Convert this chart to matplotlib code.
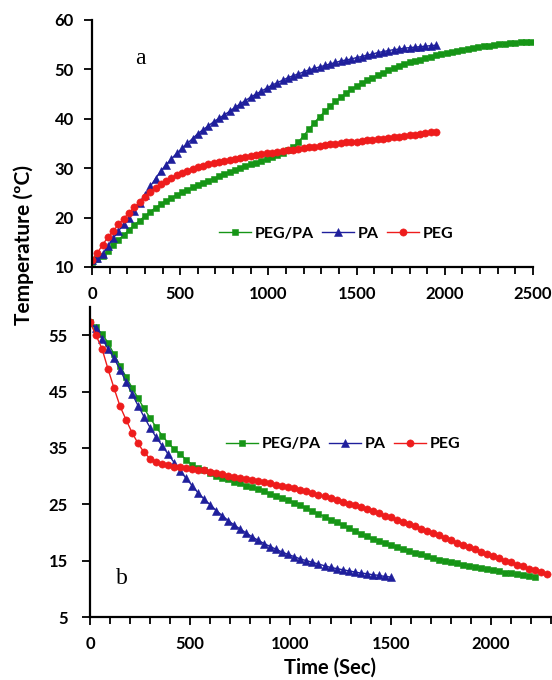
import numpy as np
import matplotlib
matplotlib.use('Agg')
import matplotlib.pyplot as plt
from matplotlib.ticker import MultipleLocator

plt.rcParams.update({
    'font.family': 'Lato',
    'font.weight': 'bold',
    'font.size': 12,
})

# sampling interval of the logged temperatures (s)
STEP = 30

# (a) heating curves, temperature in degC, one value every STEP seconds
heat_pegpa = [11.1, 11.6, 12.3, 13.3, 14.5, 15.5, 16.5, 17.5, 18.5, 19.4, 20.3, 21.2, 22.0, 22.7,
              23.4, 24.0, 24.6, 25.1, 25.6, 26.1, 26.6, 27.0, 27.5, 27.9, 28.4, 28.8, 29.2, 29.6,
              30.0, 30.4, 30.8, 31.1, 31.5, 31.8, 32.2, 32.6, 33.1, 33.6, 34.3, 35.3, 36.6, 37.9,
              39.2, 40.4, 41.5, 42.5, 43.5, 44.4, 45.2, 46.0, 46.6, 47.2, 47.8, 48.3, 48.8, 49.3,
              49.8, 50.2, 50.6, 51.0, 51.4, 51.7, 52.0, 52.3, 52.6, 52.9, 53.1, 53.4, 53.6, 53.8,
              54.0, 54.2, 54.4, 54.5, 54.7, 54.8, 55.0, 55.1, 55.2, 55.3, 55.4, 55.5, 55.6, 55.6]
heat_pa = [11.5, 11.8, 12.6, 14.2, 15.8, 17.3, 18.7, 20.0, 21.4, 23.0, 24.6, 26.3, 27.9, 29.4,
           30.7, 31.9, 33.0, 34.0, 35.0, 36.0, 37.0, 37.8, 38.6, 39.4, 40.1, 40.8, 41.5, 42.3,
           43.0, 43.7, 44.4, 45.0, 45.6, 46.2, 46.8, 47.3, 47.8, 48.3, 48.7, 49.1, 49.5, 49.9,
           50.2, 50.5, 50.8, 51.1, 51.4, 51.7, 51.9, 52.1, 52.4, 52.6, 52.9, 53.1, 53.4, 53.6,
           53.8, 54.0, 54.1, 54.3, 54.4, 54.5, 54.6, 54.7, 54.8, 54.9]
heat_peg = [11.5, 12.8, 14.5, 16.0, 17.3, 18.6, 19.8, 21.0, 22.1, 23.2, 24.2, 25.2, 26.0, 26.8,
            27.5, 28.1, 28.6, 29.1, 29.5, 29.9, 30.2, 30.5, 30.8, 31.0, 31.3, 31.5, 31.7, 31.9,
            32.1, 32.3, 32.5, 32.6, 32.8, 33.0, 33.1, 33.3, 33.4, 33.6, 33.7, 33.9, 34.0, 34.2,
            34.3, 34.5, 34.6, 34.8, 34.9, 35.1, 35.2, 35.3, 35.4, 35.6, 35.7, 35.8, 35.9, 36.0,
            36.2, 36.3, 36.4, 36.6, 36.7, 36.8, 37.0, 37.1, 37.3, 37.4]

# (b) cooling curves
cool_pegpa = [57.3, 56.4, 55.2, 53.7, 51.6, 49.6, 47.6, 45.7, 43.8, 42.0, 40.3, 38.7, 37.2, 35.9,
              34.8, 33.9, 32.9, 32.0, 31.4, 31.0, 30.5, 30.1, 29.7, 29.4, 29.0, 28.7, 28.3, 28.0,
              27.7, 27.3, 26.9, 26.5, 26.1, 25.7, 25.3, 24.8, 24.3, 23.8, 23.3, 22.8, 22.3, 21.8,
              21.3, 20.8, 20.3, 19.8, 19.3, 18.9, 18.5, 18.1, 17.7, 17.4, 17.0, 16.7, 16.4, 16.1,
              15.8, 15.5, 15.2, 15.0, 14.7, 14.5, 14.3, 14.1, 13.9, 13.7, 13.5, 13.3, 13.1, 12.9,
              12.8, 12.6, 12.4, 12.3, 12.1]
cool_pa = [57.3, 56.2, 54.4, 52.6, 50.9, 48.9, 46.7, 44.6, 42.5, 40.5, 38.6, 36.9, 35.4, 33.9,
           32.4, 30.9, 29.6, 28.3, 27.0, 25.9, 24.9, 23.9, 23.0, 22.1, 21.3, 20.6, 19.9, 19.2,
           18.6, 18.0, 17.5, 17.0, 16.5, 16.1, 15.7, 15.3, 15.0, 14.7, 14.4, 14.1, 13.8, 13.6,
           13.4, 13.2, 13.0, 12.8, 12.7, 12.5, 12.4, 12.2, 12.1]
cool_peg = [57.3, 55.0, 52.6, 49.0, 45.6, 42.4, 40.0, 37.7, 35.8, 34.2, 33.1, 32.5, 32.1, 31.9,
            31.7, 31.6, 31.4, 31.3, 31.1, 31.0, 30.8, 30.6, 30.4, 30.1, 29.9, 29.7, 29.5, 29.3,
            29.1, 28.9, 28.7, 28.5, 28.3, 28.1, 27.9, 27.6, 27.3, 27.0, 26.7, 26.4, 26.1, 25.8,
            25.4, 25.1, 24.8, 24.5, 24.1, 23.8, 23.4, 23.0, 22.7, 22.3, 21.9, 21.5, 21.1, 20.7,
            20.3, 19.9, 19.5, 19.1, 18.7, 18.2, 17.8, 17.4, 17.0, 16.6, 16.2, 15.8, 15.4, 15.0,
            14.7, 14.3, 14.0, 13.6, 13.3, 13.0, 12.7]

labels = ['PEG/PA', 'PA', 'PEG']
GREEN, BLUE, RED = '#169516', '#1f1f9c', '#ee1c1c'
styles = [(GREEN, 's', 4.7), (BLUE, '^', 5.4), (RED, 'o', 5.2)]


def times(vals):
    return np.arange(len(vals)) * STEP


def style_axis(ax, xmax, ymin, ymax, yticks, ypad):
    ax.set_xlim(0, xmax)
    ax.set_ylim(ymin, ymax)
    for s in ('top', 'right'):
        ax.spines[s].set_visible(False)
    for s in ('left', 'bottom'):
        ax.spines[s].set_linewidth(1.6)
    ax.xaxis.set_major_locator(MultipleLocator(500))
    ax.xaxis.set_minor_locator(MultipleLocator(100))
    ax.set_yticks(yticks)
    ax.tick_params(which='major', direction='out', length=6, width=1.3, labelsize=12)
    ax.tick_params(which='minor', direction='out', length=5, width=1.3)
    ax.tick_params(axis='x', which='major', pad=8)
    ax.tick_params(axis='y', which='major', pad=ypad)
    for lab in ax.get_xticklabels() + ax.get_yticklabels():
        lab.set_fontweight('bold')


def add_legend(ax, cx, cy):
    ax.legend(loc='center', bbox_to_anchor=(cx, cy), bbox_transform=fig.transFigure,
              ncol=3, frameon=False, handlelength=2.0, handletextpad=0.25, columnspacing=0.5,
              prop={'weight': 'bold', 'size': 11.5})


fig = plt.figure(figsize=(5.52, 6.80), dpi=100)
ax_a = fig.add_axes([0.1667, 0.6074, 0.7989, 0.3632])
ax_b = fig.add_axes([0.1630, 0.0926, 0.8352, 0.4559])

# ---- (a) heating ----
for vals, lab, (c, m, ms) in zip([heat_pegpa, heat_pa, heat_peg], labels, styles):
    ax_a.plot(times(vals), vals, color=c, marker=m, markersize=ms, linewidth=1.0,
              markeredgewidth=0.4, label=lab)
style_axis(ax_a, 2500, 10, 60, [10, 20, 30, 40, 50, 60], 7)
add_legend(ax_a, 0.609, 0.656)
ax_a.text(140 / 552, 1 - 58 / 680, 'a', transform=fig.transFigure, family='Liberation Serif',
          fontweight='normal', fontsize=17, ha='center', va='center')

# ---- (b) cooling ----
for vals, lab, (c, m, ms) in zip([cool_pegpa, cool_pa, cool_peg], labels, styles):
    ax_b.plot(times(vals), vals, color=c, marker=m, markersize=ms, linewidth=1.0,
              markeredgewidth=0.4, label=lab)
style_axis(ax_b, 2300, 5, 60, [5, 15, 25, 35, 45, 55], 10)
add_legend(ax_b, 0.622, 0.347)
ax_b.text(122 / 552, 1 - 578 / 680, 'b', transform=fig.transFigure, family='Liberation Serif',
          fontweight='normal', fontsize=17, ha='center', va='center')

fig.text(24 / 552, 1 - 245 / 680, 'Temperature (ºC)', rotation=90, ha='center', va='center',
         fontsize=15, fontweight='bold')
fig.text(330 / 552, 1 - 668 / 680, 'Time (Sec)', ha='center', va='center',
         fontsize=14.5, fontweight='bold')

fig.savefig('out.png', dpi=100)
